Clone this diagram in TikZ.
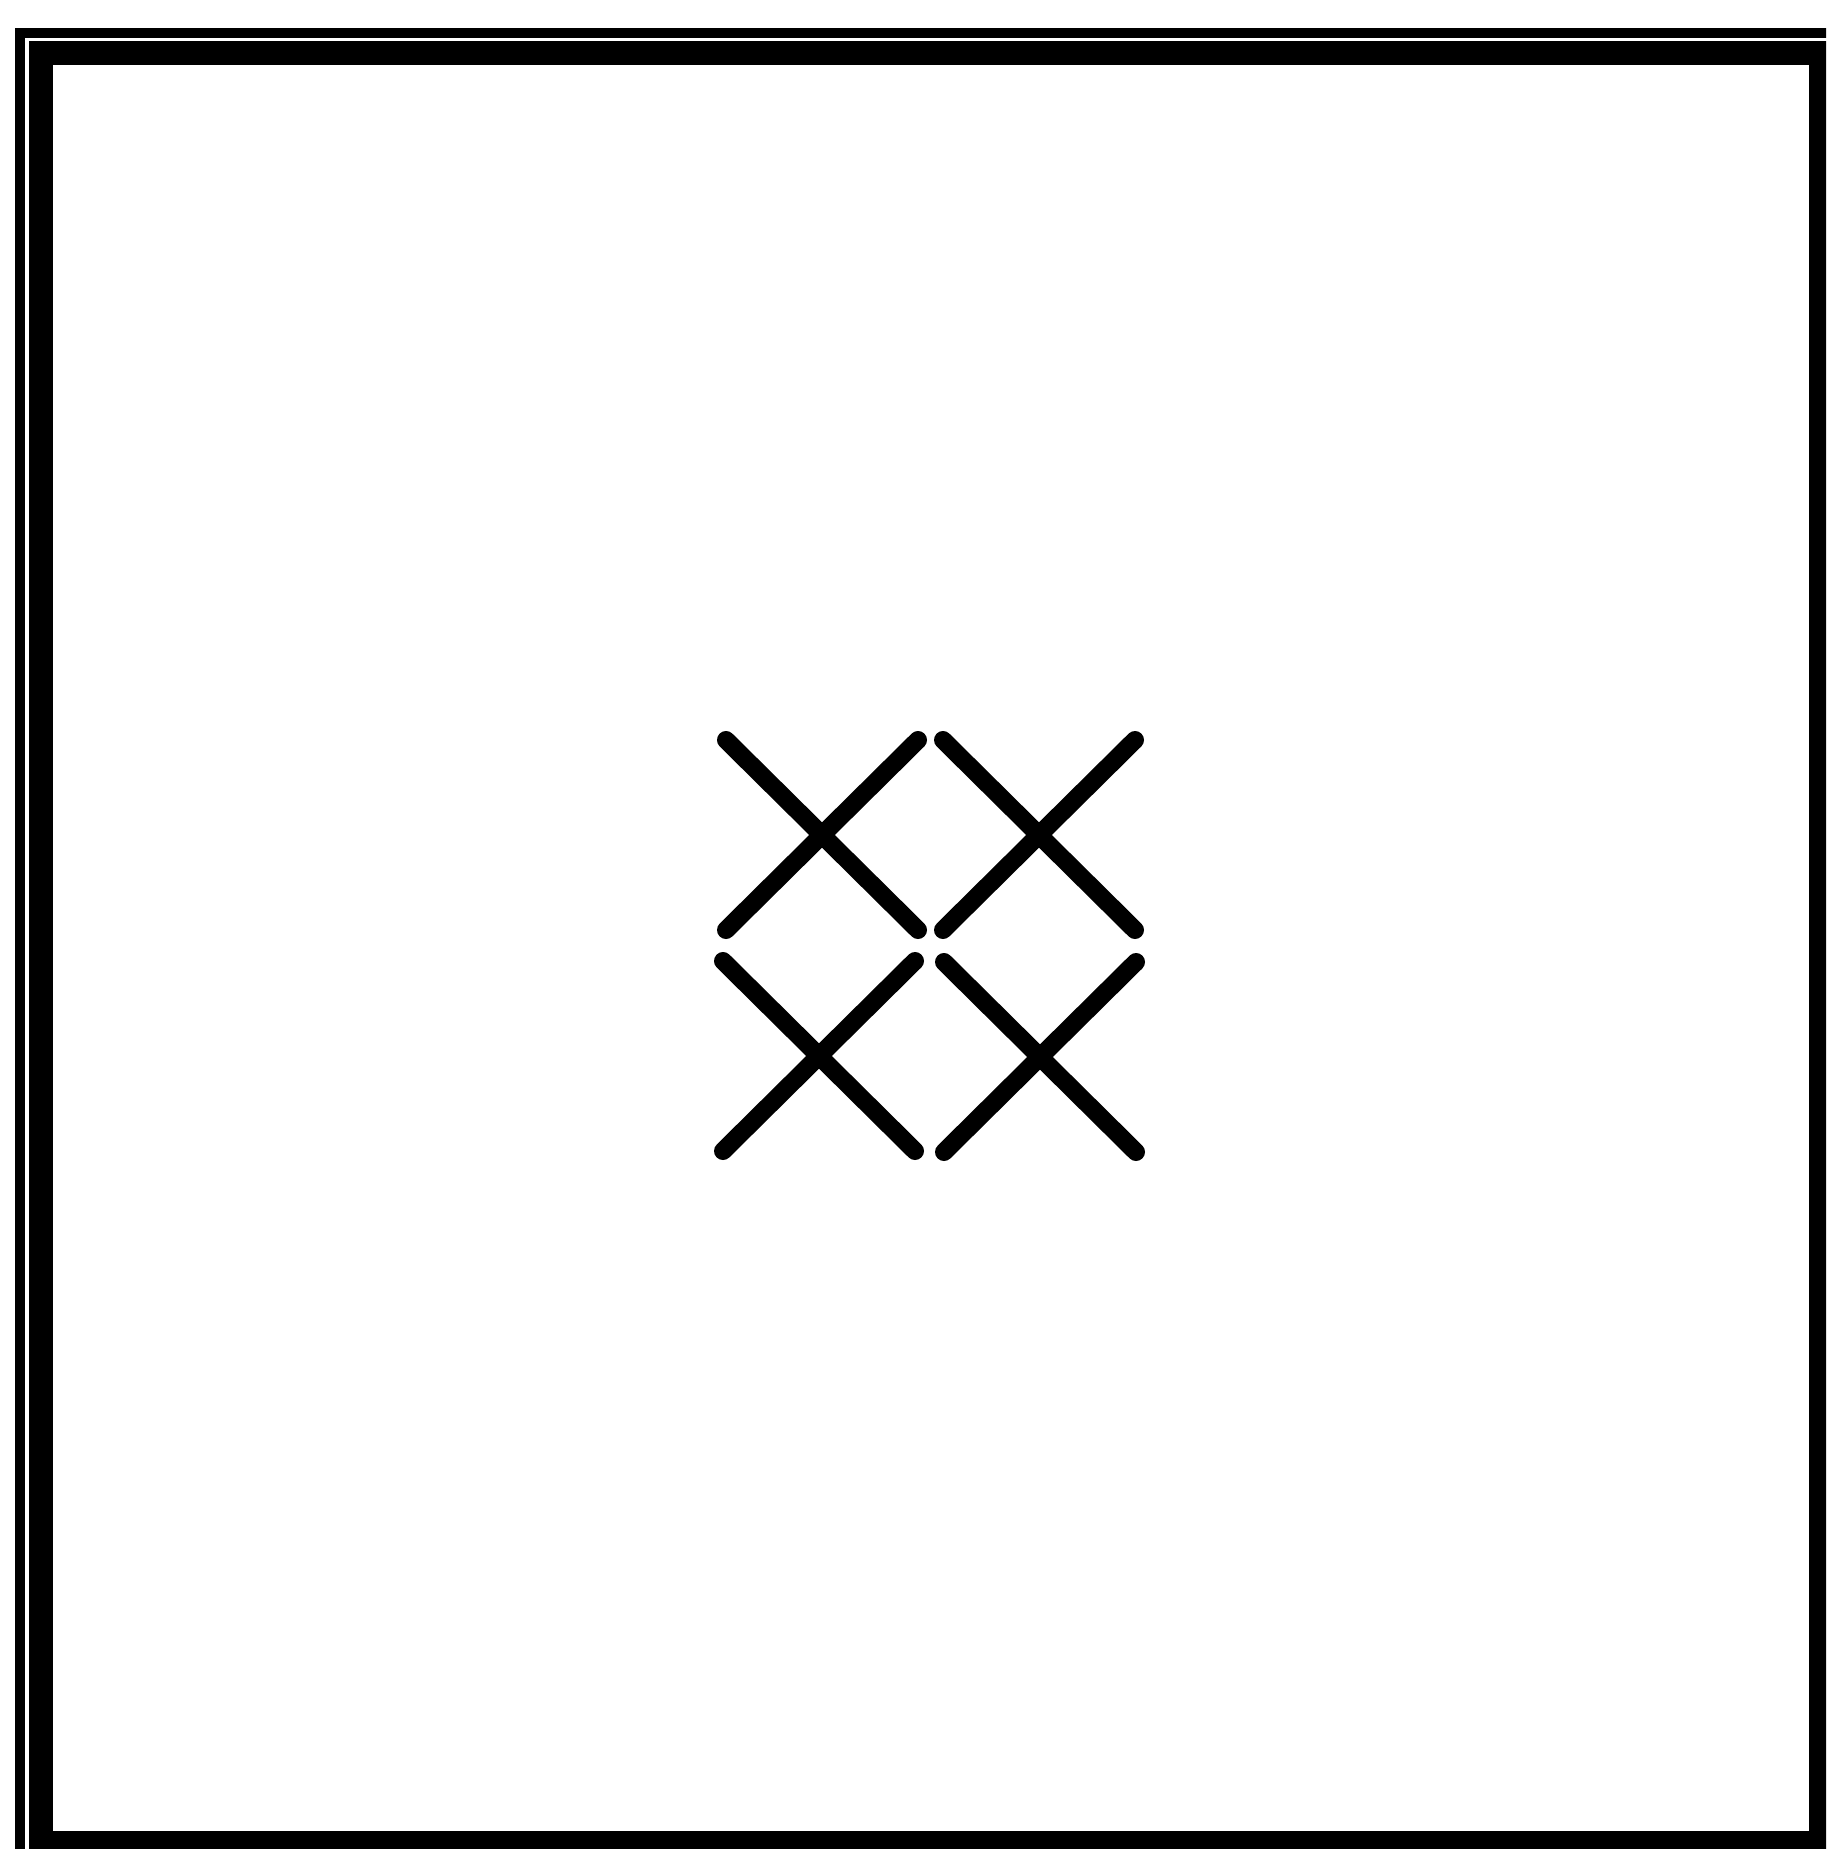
\documentclass[tikz,border=0pt]{standalone}
\begin{document}
\begin{tikzpicture}[x=0.01cm,y=-0.01cm,
  thinframe/.style={line width=0.10cm,draw=black},
  thickframe/.style={line width=0.23cm,draw=black},
  crossline/.style={line width=0.18cm,draw=black,line cap=round}]
\useasboundingbox (0,0) rectangle (1826,1849);
\fill[white] (0,0) rectangle (1826,1849);
\clip (0,0) rectangle (1826,1849);
% outer thin frame
\draw[thinframe] (20,33) rectangle (1860,1880);
% inner thick frame
\draw[thickframe] (41,53) rectangle (1820,1842);
% four crosses
\foreach \n/\cx/\cy in {tl/822/835, tr/1039/835, bl/819/1056, br/1040/1057}{
  \coordinate (\n-a) at (\cx-96,\cy-95);
  \coordinate (\n-b) at (\cx+96,\cy+95);
  \coordinate (\n-c) at (\cx+96,\cy-95);
  \coordinate (\n-d) at (\cx-96,\cy+95);
  \draw[crossline] (\n-a) -- (\n-b);
  \draw[crossline] (\n-c) -- (\n-d);
}
\end{tikzpicture}
\end{document}
